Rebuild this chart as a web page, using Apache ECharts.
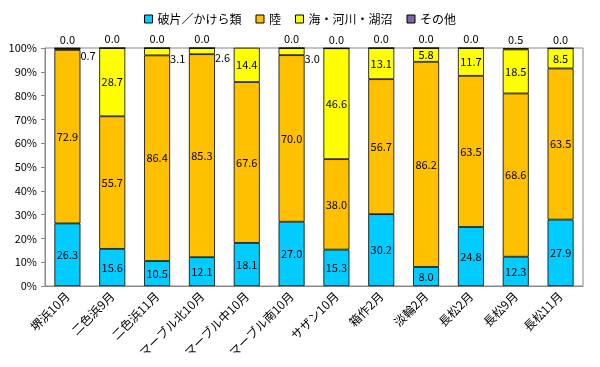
<!DOCTYPE html>
<html><head><meta charset="utf-8">
<script src="https://cdn.jsdelivr.net/npm/echarts@6/dist/echarts.min.js"></script>
<style>html,body{margin:0;padding:0;background:#fff}#c{width:600px;height:367px}</style>
</head><body><div id="c"></div>
<script>
const categories = ['堺浜10月','二色浜9月','二色浜11月','マーブル北10月','マーブル中10月','マーブル南10月','サザン10月','箱作2月','淡輪2月','長松2月','長松9月','長松11月'];
const seriesNames = ['破片／かけら類','陸','海・河川・湖沼','その他'];
const hahen = [26.3,15.6,10.5,12.1,18.1,27.0,15.3,30.2,8.0,24.8,12.3,27.9];
const riku = [72.9,55.7,86.4,85.3,67.6,70.0,38.0,56.7,86.2,63.5,68.6,63.5];
const umi = [0.7,28.7,3.1,2.6,14.4,3.0,46.6,13.1,5.8,11.7,18.5,8.5];
const sonota = [0.0,0.0,0.0,0.0,0.0,0.0,0.0,0.0,0.0,0.0,0.5,0.0];
const yTicks = [0,10,20,30,40,50,60,70,80,90,100];

const colors = ['#00CCFF','#FFC000','#FFFF00','#8064A2'];
const font = '"Noto Sans CJK JP", sans-serif';
const fmt = p => p.value.toFixed(1);

function umiData() {
  return umi.map(v => v < 5 ? {value: v, label: {position: 'right', offset: [-2, 7], distance: 2}} : v);
}

const chart = echarts.init(document.getElementById('c'));
const baseLabel = {show: true, color: '#000', fontSize: 11, fontFamily: font, formatter: fmt};
const item = c => ({color: c, borderColor: '#000', borderWidth: 0.8});
chart.setOption({
  animation: false,
  textStyle: {fontFamily: font},
  legend: {
    top: 8, left: 'center', itemWidth: 8, itemHeight: 8, itemGap: 14,
    textStyle: {fontSize: 12, color: '#000', fontFamily: font},
    data: seriesNames.map(n => ({name: n, icon: 'rect', itemStyle: {borderColor: '#000', borderWidth: 1}}))
  },
  grid: {left: 45, right: 17, top: 48, bottom: 81, show: true, borderColor: '#888', borderWidth: 1},
  xAxis: {
    type: 'category', data: categories,
    axisLine: {lineStyle: {color: '#888'}}, axisTick: {show: false},
    axisLabel: {rotate: 45, interval: 0, fontSize: 12, color: '#000', fontFamily: font, margin: 8}
  },
  yAxis: {
    type: 'value', min: 0, max: 100, interval: 10,
    splitLine: {show: false},
    axisLine: {show: true, lineStyle: {color: '#888'}},
    axisTick: {show: true, lineStyle: {color: '#888'}, length: 4},
    axisLabel: {formatter: v => yTicks.includes(v) ? v + '%' : '', fontSize: 11, color: '#000', fontFamily: font}
  },
  series: [
    {name: seriesNames[0], type: 'bar', stack: 's', barWidth: '58%', data: hahen, itemStyle: item(colors[0]), label: Object.assign({}, baseLabel, {position: 'inside'})},
    {name: seriesNames[1], type: 'bar', stack: 's', data: riku, itemStyle: item(colors[1]), label: Object.assign({}, baseLabel, {position: 'inside'})},
    {name: seriesNames[2], type: 'bar', stack: 's', data: umiData(), itemStyle: item(colors[2]), label: Object.assign({}, baseLabel, {position: 'inside'})},
    {name: seriesNames[3], type: 'bar', stack: 's', data: sonota, itemStyle: item(colors[3]), label: Object.assign({}, baseLabel, {position: 'top', distance: 3})}
  ]
});
</script></body></html>
